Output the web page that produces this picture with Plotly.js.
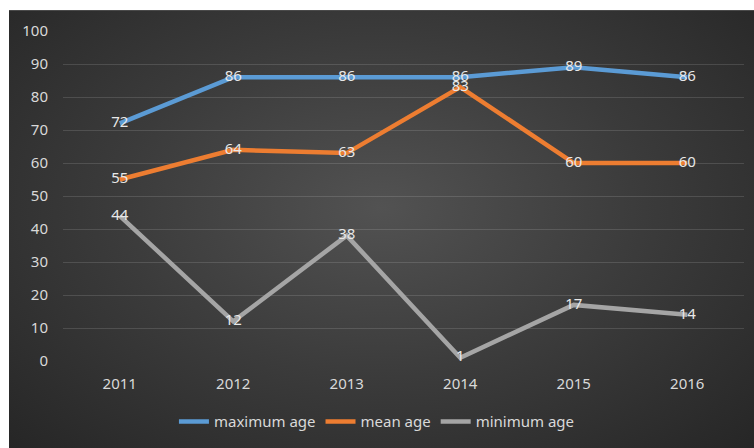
<!DOCTYPE html>
<html>
<head>
<meta charset="utf-8">
<script src="https://cdn.plot.ly/plotly-3.0.1.min.js"></script>
<style>
  html, body { margin: 0; padding: 0; background: #ffffff; }
  #wrap { position: relative; width: 754px; height: 448px; }
  #bg { position: absolute; left: 9px; top: 10px; width: 745px; height: 438px;
        background: radial-gradient(ellipse at 50% 45%, #525252 0%, #3b3b3b 50%, #262626 100%);
        border-top: 1px solid #4a4a4a; box-sizing: border-box; }
  #chart { position: absolute; left: 0; top: 0; width: 754px; height: 448px; }
</style>
</head>
<body>
<div id="wrap"><div id="bg"></div><div id="chart"></div></div>
<script>
const years = ["2011", "2012", "2013", "2014", "2015", "2016"];
const maximumAge = [72, 86, 86, 86, 89, 86];
const meanAge = [55, 64, 63, 83, 60, 60];
const minimumAge = [44, 12, 38, 1, 17, 14];
const seriesNames = ["maximum age", "mean age", "minimum age"];
const yTicks = [0, 10, 20, 30, 40, 50, 60, 70, 80, 90, 100];

const colors = ["#5b9bd5", "#ed7d31", "#a5a5a5"];
const font = "Noto Sans, Open Sans, sans-serif";

function mk(vals, name, color) {
  return {
    x: years, y: vals, name: name, type: "scatter", mode: "lines+text",
    line: { color: color, width: 4.5 },
    text: vals.map(String), textposition: "middle center",
    textfont: { family: font, size: 15, color: "#e8e8e8" },
    hoverinfo: "skip", cliponaxis: false
  };
}

const data = [
  mk(maximumAge, seriesNames[0], colors[0]),
  mk(meanAge, seriesNames[1], colors[1]),
  mk(minimumAge, seriesNames[2], colors[2])
];

const layout = {
  width: 754, height: 448,
  margin: { l: 63, r: 10, t: 31, b: 85 },
  paper_bgcolor: "rgba(0,0,0,0)", plot_bgcolor: "rgba(0,0,0,0)",
  font: { family: font, size: 15, color: "#d9d9d9" },
  showlegend: true,
  legend: {
    orientation: "h", x: 0.461, xanchor: "center", y: -0.184, yanchor: "middle",
    font: { family: font, size: 15, color: "#d9d9d9" },
    bgcolor: "rgba(0,0,0,0)", traceorder: "normal", itemwidth: 30
  },
  xaxis: {
    type: "category", showgrid: false, zeroline: false, showline: false,
    ticks: "", ticklabelstandoff: 12,
    tickfont: { family: font, size: 15, color: "#d9d9d9" },
    range: [-0.5, 5.5], fixedrange: true
  },
  yaxis: {
    range: [0, 100], tickvals: yTicks, ticktext: yTicks.map(String),
    showgrid: true, gridcolor: "rgba(255,255,255,0.13)", gridwidth: 1,
    zeroline: false, showline: false, ticks: "", ticklabelstandoff: 14,
    tickfont: { family: font, size: 15, color: "#d9d9d9" },
    fixedrange: true
  }
};

Plotly.newPlot("chart", data, layout, { staticPlot: true, displayModeBar: false });
</script>
</body>
</html>
